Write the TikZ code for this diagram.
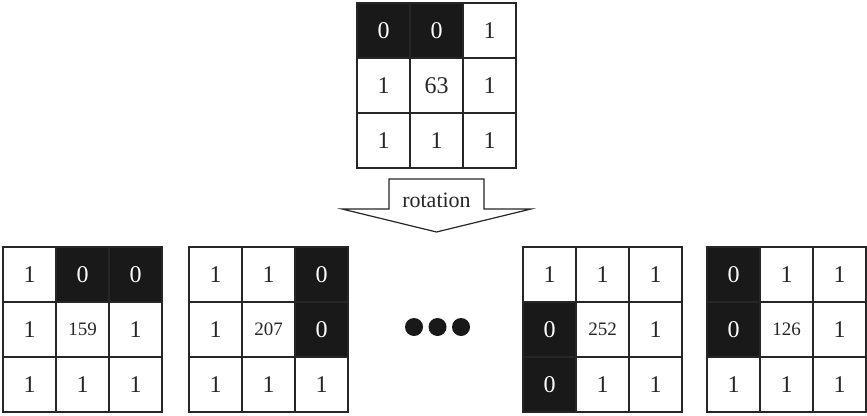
\documentclass[tikz,border=0pt]{standalone}
\usepackage{fontspec}
\setmainfont{Liberation Serif}
\begin{document}
\begin{tikzpicture}[x=1pt,y=-1pt,
  gridline/.style={line width=1.3pt,draw=black!85},
  wcell/.style={gridline,fill=white,minimum width=53pt,minimum height=55pt,
    inner sep=0pt,font=\fontsize{24}{24}\selectfont,text=black!85},
  bcell/.style={wcell,fill=black!90,text=white},
  mcell/.style={wcell,font=\fontsize{19}{19}\selectfont},
  dot/.style={circle,fill=black!90,minimum size=18pt,inner sep=0pt},
  arrowbody/.style={line width=1.2pt,draw=black!85,fill=white,line join=miter}]
\useasboundingbox (0,0) rectangle (867,415);
% a 3x3 tile of cells; entries are row/column/value/style
\newcommand{\tilegrid}[4]{%
  \foreach \r/\c/\v/\s in {#4} {
    \node[\s] (#1-\r-\c) at ({#2+(\c-0.5)*53},{#3+(\r-0.5)*55}) {\v};
  }%
}
% source pattern
\tilegrid{src}{357}{3}{1/1/0/bcell,1/2/0/bcell,1/3/1/wcell,
  2/1/1/wcell,2/2/63/wcell,2/3/1/wcell,
  3/1/1/wcell,3/2/1/wcell,3/3/1/wcell}
% rotation arrow
\coordinate (sl) at (389,179);
\coordinate (sr) at (484,179);
\coordinate (tip) at (436.5,232);
\draw[arrowbody] (sl) -- (389,209) -- (342,209) -- (tip) -- (531,209)
  -- (484,209) -- (sr) -- cycle;
\node[anchor=base,font=\fontsize{22}{22}\selectfont,text=black!85,inner sep=0pt]
  (rot) at (436.5,207) {rotation};
% rotated patterns
\tilegrid{ra}{3}{247}{1/1/1/wcell,1/2/0/bcell,1/3/0/bcell,
  2/1/1/wcell,2/2/159/mcell,2/3/1/wcell,
  3/1/1/wcell,3/2/1/wcell,3/3/1/wcell}
\tilegrid{rb}{189}{247}{1/1/1/wcell,1/2/1/wcell,1/3/0/bcell,
  2/1/1/wcell,2/2/207/mcell,2/3/0/bcell,
  3/1/1/wcell,3/2/1/wcell,3/3/1/wcell}
\tilegrid{rc}{523}{247}{1/1/1/wcell,1/2/1/wcell,1/3/1/wcell,
  2/1/0/bcell,2/2/252/mcell,2/3/1/wcell,
  3/1/0/bcell,3/2/1/wcell,3/3/1/wcell}
\tilegrid{rd}{707}{247}{1/1/0/bcell,1/2/1/wcell,1/3/1/wcell,
  2/1/0/bcell,2/2/126/mcell,2/3/1/wcell,
  3/1/1/wcell,3/2/1/wcell,3/3/1/wcell}
% ellipsis
\node[dot] (d1) at (414,327) {};
\node[dot] (d2) at (437.5,327) {};
\node[dot] (d3) at (461,327) {};
\end{tikzpicture}
\end{document}
